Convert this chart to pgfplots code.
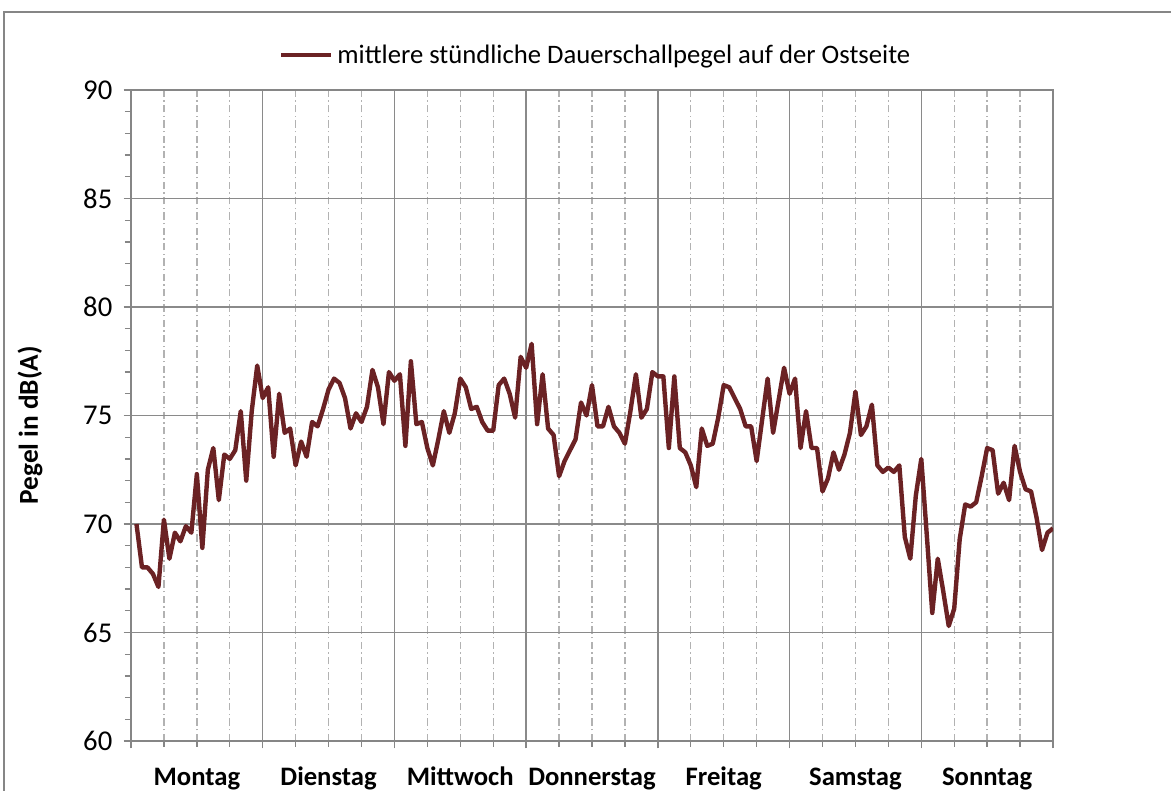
\documentclass[border=0pt]{standalone}
\usepackage{pgfplots}
\pgfplotsset{compat=1.18}
\usepackage{pgfplotstable}
\usepackage{fontspec}
\setmainfont{Carlito}
\definecolor{linec}{HTML}{6B2224}
\definecolor{gridc}{HTML}{8A8A8A}
\definecolor{dashc}{HTML}{B2B2B2}
\definecolor{axc}{HTML}{868686}
\pgfplotstableread{
h v
1 70.0
2 68.0
3 68.0
4 67.7
5 67.1
6 70.2
7 68.4
8 69.6
9 69.2
10 69.9
11 69.6
12 72.3
13 68.9
14 72.5
15 73.5
16 71.1
17 73.2
18 73.0
19 73.4
20 75.2
21 72.0
22 75.2
23 77.3
24 75.8
25 76.3
26 73.1
27 76.0
28 74.2
29 74.4
30 72.7
31 73.8
32 73.1
33 74.7
34 74.5
35 75.3
36 76.2
37 76.7
38 76.5
39 75.8
40 74.4
41 75.1
42 74.7
43 75.4
44 77.1
45 76.3
46 74.6
47 77.0
48 76.6
49 76.9
50 73.6
51 77.5
52 74.6
53 74.7
54 73.5
55 72.7
56 73.9
57 75.2
58 74.2
59 75.1
60 76.7
61 76.3
62 75.3
63 75.4
64 74.7
65 74.3
66 74.3
67 76.4
68 76.7
69 76.0
70 74.9
71 77.7
72 77.2
73 78.3
74 74.6
75 76.9
76 74.4
77 74.1
78 72.2
79 72.9
80 73.4
81 73.9
82 75.6
83 75.0
84 76.4
85 74.5
86 74.5
87 75.4
88 74.5
89 74.2
90 73.7
91 75.2
92 76.9
93 74.9
94 75.3
95 77.0
96 76.8
97 76.8
98 73.5
99 76.8
100 73.5
101 73.3
102 72.7
103 71.7
104 74.4
105 73.6
106 73.7
107 74.9
108 76.4
109 76.3
110 75.8
111 75.3
112 74.5
113 74.5
114 72.9
115 74.8
116 76.7
117 74.2
118 75.7
119 77.2
120 76.0
121 76.7
122 73.5
123 75.2
124 73.5
125 73.5
126 71.5
127 72.1
128 73.3
129 72.5
130 73.2
131 74.2
132 76.1
133 74.1
134 74.5
135 75.5
136 72.7
137 72.4
138 72.6
139 72.4
140 72.7
141 69.4
142 68.4
143 71.3
144 73.0
145 69.5
146 65.9
147 68.4
148 66.9
149 65.3
150 66.1
151 69.3
152 70.9
153 70.8
154 71.0
155 72.2
156 73.5
157 73.4
158 71.4
159 71.9
160 71.1
161 73.6
162 72.4
163 71.6
164 71.5
165 70.3
166 68.8
167 69.6
168 69.8
}\datatab
\begin{document}
\begin{tikzpicture}
\useasboundingbox (-98.25pt,-37.5pt) rectangle (780pt,555.75pt);
\draw[axc, line width=1.5pt] (-95.25pt,-45pt) -- (-95.25pt,546.75pt) -- (800pt,546.75pt);
\begin{axis}[
  at={(0pt,0pt)}, anchor=south west,
  scale only axis, width=691.5pt, height=488.25pt,
  xmin=0, xmax=168, ymin=60, ymax=90,
  axis line style={axc, line width=1.5pt},
  xtick={0,24,48,72,96,120,144,168},
  xticklabels={},
  minor xtick={6,12,18,30,36,42,54,60,66,78,84,90,102,108,114,126,132,138,150,156,162},
  extra x ticks={12,36,60,84,108,132,156},
  extra x tick labels={Montag,Dienstag,Mittwoch,Donnerstag,Freitag,Samstag,Sonntag},
  extra x tick style={grid=none, major tick length=0pt, tick label style={anchor=base, yshift=-33.5pt}},
  xtick align=outside, ytick align=outside,
  xtick pos=bottom, ytick pos=left,
  major tick length=5.5pt, minor tick length=4.5pt,
  ytick={60,65,...,90},
  minor ytick={61,62,63,64,66,67,68,69,71,72,73,74,76,77,78,79,81,82,83,84,86,87,88,89},
  tick style={axc, line width=1pt},
  xmajorgrids, xminorgrids, ymajorgrids,
  major grid style={gridc, line width=1.1pt},
  minor grid style={dashc, line width=1pt, dash pattern=on 5.5pt off 2.5pt on 1pt off 2.5pt},
  /pgf/number format/assume math mode=true,
  yticklabel style={font=\fontsize{21.5}{25}\selectfont, xshift=-5pt},
  x tick label style={font=\bfseries\fontsize{20}{24}\selectfont},
  ylabel={Pegel in dB(A)},
  ylabel style={font=\bfseries\fontsize{20.5}{24}\selectfont, at={(axis description cs:-0.1095,0.485)}, anchor=center, rotate=0},
  legend style={at={(axis description cs:0.505,1.054)}, anchor=center, draw=none, fill=none,
    font=\fontsize{20}{24}\selectfont, inner sep=0pt,
    nodes={inner xsep=3pt}},
  legend image code/.code={\draw[#1, line width=3.3pt] (0pt,0pt) -- (37.5pt,0pt);},
]
\addplot[linec, line width=3.3pt, line join=round] table[x=h, y=v] {\datatab};
\addlegendentry{mittlere stündliche Dauerschallpegel auf der Ostseite}
\end{axis}
\end{tikzpicture}
\end{document}
